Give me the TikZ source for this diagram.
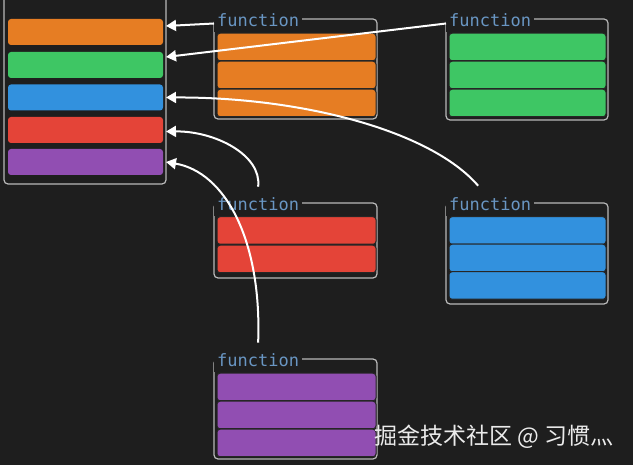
\documentclass[tikz,border=0pt]{standalone}
\usepackage{fontspec}
\setmonofont{DejaVu Sans Mono}
\newfontfamily\cjkfont{Noto Sans CJK SC}
\usetikzlibrary{arrows.meta}
\definecolor{bg}{RGB}{30,30,30}
\definecolor{framec}{RGB}{185,185,185}
\definecolor{labelc}{RGB}{105,150,195}
\definecolor{corange}{RGB}{230,125,35}
\definecolor{cgreen}{RGB}{62,198,100}
\definecolor{cblue}{RGB}{50,145,222}
\definecolor{cred}{RGB}{228,68,56}
\definecolor{cpurple}{RGB}{145,78,178}
\definecolor{wm}{RGB}{235,235,235}
\tikzset{
  frame/.style={draw=framec, line width=1.2pt, rounded corners=4pt, inner sep=0pt, outer sep=0pt},
  lbar/.style={rounded corners=3pt, inner sep=0pt, outer sep=0pt, minimum width=155pt, minimum height=26pt},
  fbar/.style={draw=black!85, line width=1pt, rounded corners=3pt, inner sep=0pt, outer sep=0pt, minimum height=27.5pt},
  flabel/.style={fill=bg, text=labelc, font=\ttfamily\fontsize{17}{19}\selectfont, inner xsep=3pt, inner ysep=5pt, anchor=west},
  arr/.style={draw=white, line width=2pt, -{Triangle[length=10pt,width=11pt]}},
}
\begin{document}
\begin{tikzpicture}[x=1pt,y=-1pt]
\fill[bg] (0,0) rectangle (633,465);
\useasboundingbox (0,0) rectangle (633,465);
\clip (0,0) rectangle (633,465);
% left container
\node[frame, minimum width=162pt, minimum height=200pt] (C) at (85,84) {};
\node[lbar, fill=corange] (L1) at (85.5,32) {};
\node[lbar, fill=cgreen] (L2) at (85.5,65) {};
\node[lbar, fill=cblue] (L3) at (85.5,97.5) {};
\node[lbar, fill=cred] (L4) at (85.5,130) {};
\node[lbar, fill=cpurple] (L5) at (85.5,162) {};
% function A (orange)
\node[frame, minimum width=163pt, minimum height=100pt] (FA) at (295.5,69) {};
\node[fbar, fill=corange, minimum width=159pt] (A1) at (296.5,47) {};
\node[fbar, fill=corange, minimum width=159pt] (A2) at (296.5,75) {};
\node[fbar, fill=corange, minimum width=159pt] (A3) at (296.5,103) {};
\node[flabel] (la) at (214,20.5) {function};
% function B (green)
\node[frame, minimum width=162pt, minimum height=101pt] (FB) at (527,69.5) {};
\node[fbar, fill=cgreen, minimum width=157pt] (B1) at (527.5,47) {};
\node[fbar, fill=cgreen, minimum width=157pt] (B2) at (527.5,75) {};
\node[fbar, fill=cgreen, minimum width=157pt] (B3) at (527.5,103) {};
\node[flabel] (lb) at (446,20.5) {function};
% function C (red)
\node[frame, minimum width=163pt, minimum height=75pt] (FC) at (295.5,240.5) {};
\node[fbar, fill=cred, minimum width=159pt] (C1) at (296.5,230.5) {};
\node[fbar, fill=cred, minimum width=159pt] (C2) at (296.5,259) {};
\node[flabel] (lc) at (214,204.5) {function};
% function D (blue)
\node[frame, minimum width=162pt, minimum height=101pt] (FD) at (527,253.5) {};
\node[fbar, fill=cblue, minimum width=157pt] (D1) at (527.5,230.5) {};
\node[fbar, fill=cblue, minimum width=157pt] (D2) at (527.5,258) {};
\node[fbar, fill=cblue, minimum width=157pt] (D3) at (527.5,285.5) {};
\node[flabel] (ld) at (446,204.5) {function};
% function E (purple)
\node[frame, minimum width=163pt, minimum height=100pt] (FE) at (295.5,409) {};
\node[fbar, fill=cpurple, minimum width=159pt] (E1) at (296.5,387) {};
\node[fbar, fill=cpurple, minimum width=159pt] (E2) at (296.5,415) {};
\node[fbar, fill=cpurple, minimum width=159pt] (E3) at (296.5,443) {};
\node[flabel] (le) at (214,360.5) {function};
% arrows
\draw[arr] ([yshift=-3pt]la.west) -- ([yshift=6pt]L1.east -| C.east);
\draw[arr] ([yshift=-3pt]lb.west) -- ([yshift=8pt]L2.east -| C.east);
\draw[arr] ([xshift=-12pt,yshift=7pt]ld.north) .. controls (430,130) and (300,97) .. (L3.east -| C.east);
\draw[arr] ([xshift=0pt,yshift=6pt]lc.north) .. controls (262,155) and (215,131) .. ([yshift=-1.5pt]L4.east -| C.east);
\draw[arr] ([xshift=0pt,yshift=6pt]le.north) .. controls (262,240) and (225,172) .. (L5.east -| C.east);
% watermark
\node[text=wm, font=\cjkfont\fontsize{23}{26}\selectfont, anchor=west, inner sep=0pt] (W) at (374,437) {掘金技术社区 @ 习惯灬};
\end{tikzpicture}
\end{document}
